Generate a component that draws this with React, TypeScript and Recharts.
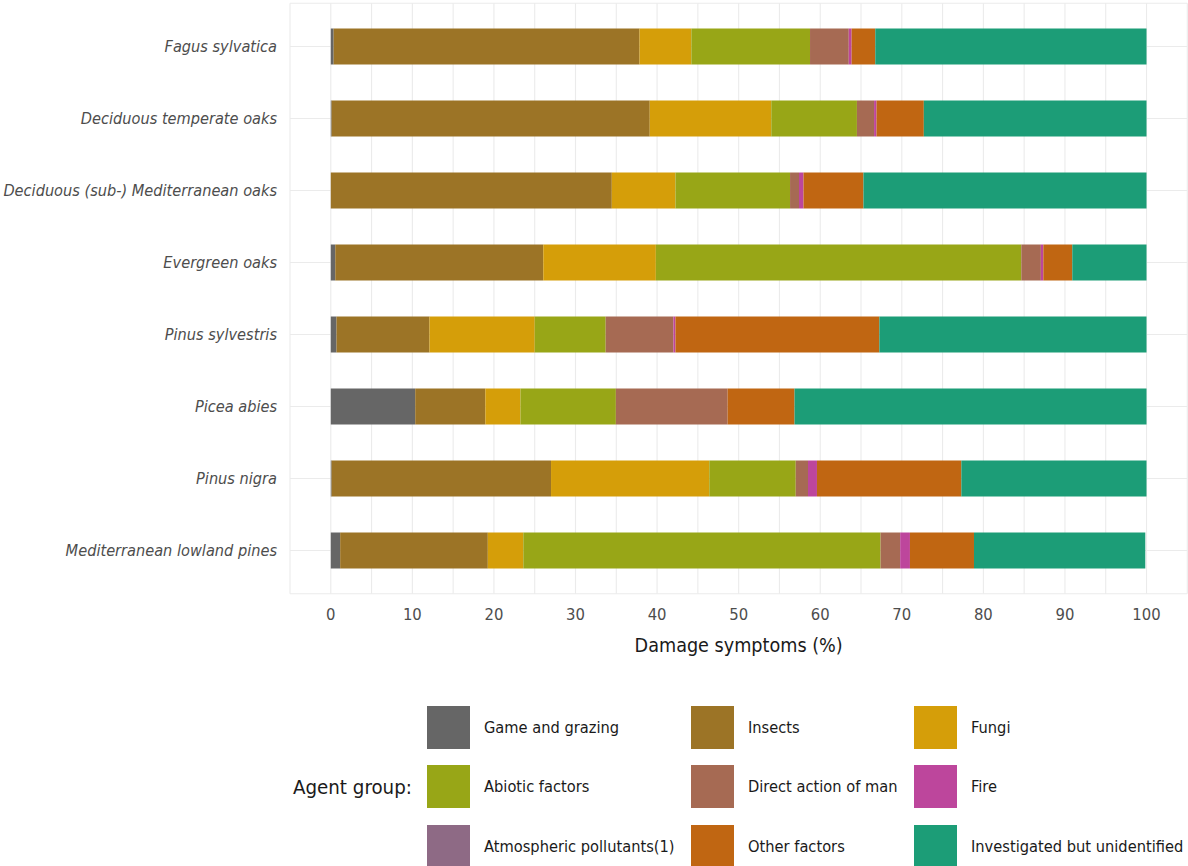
import React from 'react';
import { BarChart, Bar, XAxis, YAxis, CartesianGrid } from 'recharts';

const categories = [
  'Fagus sylvatica',
  'Deciduous temperate oaks',
  'Deciduous (sub-) Mediterranean oaks',
  'Evergreen oaks',
  'Pinus sylvestris',
  'Picea abies',
  'Pinus nigra',
  'Mediterranean lowland pines',
];

const gameGrazing = [0.35, 0.1, 0, 0.55, 0.7, 10.35, 0.1, 1.15];
const insects = [37.5, 39.0, 34.45, 25.5, 11.4, 8.6, 26.9, 18.1];
const fungi = [6.35, 14.9, 7.8, 13.8, 12.9, 4.3, 19.4, 4.35];
const abiotic = [14.55, 10.5, 14.05, 44.8, 8.7, 11.7, 10.6, 43.8];
const directAction = [4.75, 2.1, 1.1, 2.4, 8.3, 13.7, 1.5, 2.4];
const fire = [0.35, 0.3, 0.55, 0.3, 0.25, 0, 1.1, 1.2];
const atmospheric = [0, 0, 0, 0, 0, 0, 0, 0];
const otherFactors = [2.9, 5.8, 7.35, 3.55, 25.0, 8.2, 17.7, 7.85];
const unidentified = [33.25, 27.3, 34.7, 9.1, 32.75, 43.15, 22.7, 21.0];

const xTicks = [-5, 0, 5, 10, 15, 20, 25, 30, 35, 40, 45, 50, 55, 60, 65, 70, 75, 80, 85, 90, 95, 100, 105];

const series = [
  { key: 'game', name: 'Game and grazing', values: gameGrazing, color: '#666666' },
  { key: 'insects', name: 'Insects', values: insects, color: '#9C7426' },
  { key: 'fungi', name: 'Fungi', values: fungi, color: '#D59E09' },
  { key: 'abiotic', name: 'Abiotic factors', values: abiotic, color: '#98A617' },
  { key: 'direct', name: 'Direct action of man', values: directAction, color: '#A66A53' },
  { key: 'fire', name: 'Fire', values: fire, color: '#BD469C' },
  { key: 'atmo', name: 'Atmospheric pollutants(1)', values: atmospheric, color: '#8E6A85' },
  { key: 'other', name: 'Other factors', values: otherFactors, color: '#C06612' },
  { key: 'unident', name: 'Investigated but unidentified', values: unidentified, color: '#1C9D77' },
];

const data = categories.map((name, i) => {
  const row: Record<string, number | string> = { name };
  series.forEach((s) => {
    row[s.key] = s.values[i];
  });
  return row;
});

const FONT = "'Liberation Sans Narrow', 'DejaVu Sans Condensed', 'Roboto Condensed', sans-serif";

const legendColumns = [264, 223, 260];

function LegendBlock() {
  return (
    <div
      style={{
        position: 'absolute',
        left: 0,
        top: 705,
        width: 1188,
        height: 161,
        fontFamily: FONT,
        overflow: 'hidden',
      }}
    >
      <div
        style={{
          position: 'absolute',
          left: 293,
          top: 70,
          fontSize: 20.3,
          color: '#1a1a1a',
          lineHeight: '24px',
        }}
      >
        Agent group:
      </div>
      <div
        style={{
          position: 'absolute',
          left: 427,
          top: 0.5,
          display: 'grid',
          gridTemplateColumns: legendColumns.map((c) => c + 'px').join(' '),
          gridAutoRows: '43px',
          rowGap: '16.5px',
        }}
      >
        {series.map((s) => (
          <div key={s.key} style={{ display: 'flex', alignItems: 'center' }}>
            <div style={{ width: 43, height: 43, background: s.color, flex: 'none' }} />
            <span style={{ marginLeft: 14, fontSize: 16.3, color: '#1a1a1a', whiteSpace: 'nowrap' }}>{s.name}</span>
          </div>
        ))}
      </div>
    </div>
  );
}

export default function App() {
  return (
    <div style={{ position: 'absolute', left: 0, top: 0, width: 1188, height: 866, background: '#fff' }}>
      <BarChart
        width={1188}
        height={700}
        data={data}
        layout="vertical"
        margin={{ top: 3.3, right: 0.7, left: 0, bottom: 46.3 }}
        barSize={36}
      >
        <CartesianGrid stroke="#EBEBEB" strokeWidth={1.1} />
        <XAxis
          type="number"
          domain={[-5, 105]}
          ticks={xTicks}
          interval={0}
          allowDataOverflow
          axisLine={false}
          tickLine={false}
          tickSize={0}
          tickMargin={15}
          height={60}
          tick={{ fill: '#4D4D4D', fontSize: 16.5, fontFamily: FONT }}
          tickFormatter={(v: number) => (v % 10 === 0 && v >= 0 && v <= 100 ? String(v) : '')}
          label={{
            value: 'Damage symptoms (%)',
            position: 'insideTop',
            offset: 44,
            fill: '#1a1a1a',
            fontSize: 19.6,
            fontFamily: FONT,
          }}
        />
        <YAxis
          type="category"
          dataKey="name"
          width={290}
          axisLine={false}
          tickLine={false}
          tickSize={0}
          tickMargin={13}
          interval={0}
          padding={{ top: 7.2, bottom: 7.2 }}
          tick={{ fill: '#4D4D4D', fontSize: 16.2, fontFamily: FONT, fontStyle: 'italic' }}
        />
        {series.map((s) => (
          <Bar key={s.key} dataKey={s.key} name={s.name} stackId="a" fill={s.color} isAnimationActive={false} />
        ))}
      </BarChart>
      <LegendBlock />
    </div>
  );
}
